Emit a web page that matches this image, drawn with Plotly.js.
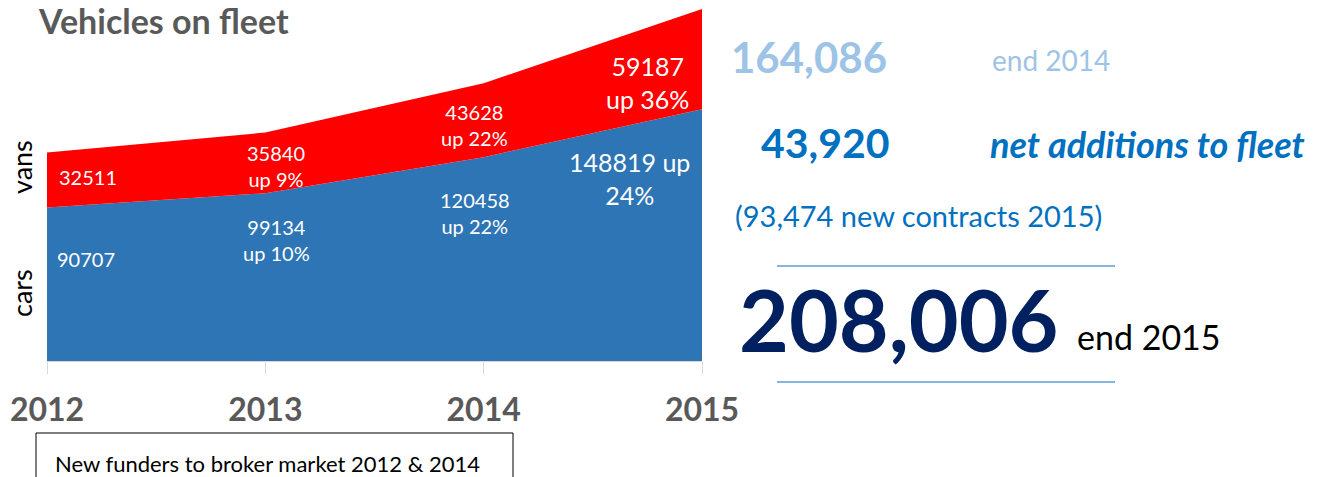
<!DOCTYPE html>
<html>
<head>
<meta charset="utf-8">
<script src="https://cdn.plot.ly/plotly-3.0.1.min.js"></script>
<style>html,body{margin:0;padding:0;background:#fff;}#chart{width:1335px;height:477px;}</style>
</head>
<body>
<div id="chart"></div>
<script>
// ---- data ----
var years = [2012, 2013, 2014, 2015];
var tickLabels = ['2012', '2013', '2014', '2015'];
var cars = [90707, 99134, 120458, 148819];
var vans = [32511, 35840, 43628, 59187];
var carLabels = ['90707', '99134<br>up 10%', '120458<br>up 22%', '148819 up<br>24%'];
var vanLabels = ['32511', '35840<br>up 9%', '43628<br>up 22%', '59187<br>up 36%'];
var seriesNames = ['cars', 'vans'];
var chartTitle = 'Vehicles on fleet';
var fleetEnd2014 = '164,086';
var netAdditions = '43,920';
var newContracts = '(93,474 new contracts 2015)';
var fleetEnd2015 = '208,006';
var noteText = 'New funders to broker market 2012 & 2014';

// ---- layout helpers (pixel -> paper) ----
var W = 1335, H = 477;
var L = 47, R = 702, T = 9, B = 361;
function px(x) { return (x - L) / (R - L); }
function py(y) { return (B - y) / (B - T); }
var FONT = 'Lato, "Open Sans", sans-serif';

var total = cars.map(function (c, i) { return c + vans[i]; });

var traces = [
  {
    x: years, y: cars, name: seriesNames[0], type: 'scatter', mode: 'lines',
    stackgroup: 'one', fillcolor: '#2E75B6', line: {width: 0, color: '#2E75B6'},
    hoverinfo: 'skip'
  },
  {
    x: years, y: vans, name: seriesNames[1], type: 'scatter', mode: 'lines',
    stackgroup: 'one', fillcolor: '#FF0000', line: {width: 0, color: '#FF0000'},
    hoverinfo: 'skip'
  }
];

// label placement (offsets in data space relative to each year)
var carLabelPos = [
  {dx: 0.035, y: 60300, anchor: 'left', size: 20},
  {dx: 0.05, y: 71500, anchor: 'center', size: 20},
  {dx: -0.04, y: 87400, anchor: 'center', size: 20},
  {dx: -0.33, y: 108100, anchor: 'center', size: 25}
];
var vanLabelPos = [
  {dx: 0.045, y: 108700, anchor: 'left', size: 20},
  {dx: 0.05, y: 115200, anchor: 'center', size: 20},
  {dx: -0.04, y: 139400, anchor: 'center', size: 20},
  {dx: -0.25, y: 164300, anchor: 'center', size: 25}
];

var annotations = [];
years.forEach(function (yr, i) {
  annotations.push({
    x: yr + carLabelPos[i].dx, y: carLabelPos[i].y, xref: 'x', yref: 'y',
    text: carLabels[i], showarrow: false, xanchor: carLabelPos[i].anchor, yanchor: 'middle',
    align: 'center', font: {family: FONT, size: carLabelPos[i].size, color: '#ffffff'}
  });
  annotations.push({
    x: yr + vanLabelPos[i].dx, y: vanLabelPos[i].y, xref: 'x', yref: 'y',
    text: vanLabels[i], showarrow: false, xanchor: vanLabelPos[i].anchor, yanchor: 'middle',
    align: 'center', font: {family: FONT, size: vanLabelPos[i].size, color: '#ffffff'}
  });
});

// series names on the left
annotations.push({x: px(21), y: py(167), xref: 'paper', yref: 'paper', text: seriesNames[1],
  textangle: -90, showarrow: false, xanchor: 'center', yanchor: 'middle',
  font: {family: FONT, size: 27, color: '#000000'}});
annotations.push({x: px(21), y: py(293), xref: 'paper', yref: 'paper', text: seriesNames[0],
  textangle: -90, showarrow: false, xanchor: 'center', yanchor: 'middle',
  font: {family: FONT, size: 27, color: '#000000'}});

// right-hand panel
function side(x, y, text, size, color, weight, style) {
  annotations.push({x: px(x), y: py(y), xref: 'paper', yref: 'paper', text: text,
    showarrow: false, xanchor: 'left', yanchor: 'middle',
    font: {family: FONT, size: size, color: color, weight: weight || 'normal', style: style || 'normal'}});
}
side(729, 57, fleetEnd2014, 42, '#9DC3E6', 'bold');
side(990, 60, 'end 2014', 28, '#9DC3E6');
side(759, 142, netAdditions, 41, '#0070C0', 'bold');
side(988, 144, 'net additions to fleet', 36, '#0070C0', 'bold', 'italic');
side(733, 215, newContracts, 29, '#0070C0');
side(737, 318, fleetEnd2015, 86, '#002060', 'bold');
side(1075, 336, 'end 2015', 34, '#000000');
side(53, 463, noteText, 22, '#000000');

var shapes = [
  {type: 'line', xref: 'paper', yref: 'paper', x0: px(777), x1: px(1115), y0: py(266), y1: py(266),
    line: {color: '#5B9BD5', width: 1.5}},
  {type: 'line', xref: 'paper', yref: 'paper', x0: px(777), x1: px(1115), y0: py(382), y1: py(382),
    line: {color: '#5B9BD5', width: 1.5}},
  {type: 'rect', xref: 'paper', yref: 'paper', x0: px(36), x1: px(513), y0: py(433), y1: py(495),
    line: {color: '#000000', width: 1}, fillcolor: 'rgba(0,0,0,0)'}
];

var layout = {
  width: W, height: H,
  margin: {l: L, r: W - R, t: T, b: H - B, pad: 0},
  paper_bgcolor: '#ffffff', plot_bgcolor: '#ffffff',
  showlegend: false,
  title: {text: chartTitle, xref: 'container', yref: 'container', x: 39 / W, xanchor: 'left',
    y: 1 - 22 / H, yanchor: 'middle', font: {family: FONT, size: 34, color: '#595959', weight: 'bold'}},
  xaxis: {
    range: [years[0], years[years.length - 1]], tickvals: years, ticktext: tickLabels,
    showgrid: false, zeroline: false, showline: true, linecolor: '#D9D9D9', linewidth: 1,
    ticks: 'outside', ticklen: 12, tickcolor: '#D9D9D9', tickwidth: 1,
    ticklabelstandoff: 9,
    tickfont: {family: FONT, size: 32, color: '#595959', weight: 'bold'},
    fixedrange: true
  },
  yaxis: {
    range: [0, Math.max.apply(null, total)], showgrid: false, zeroline: false,
    showticklabels: false, showline: false, ticks: '', fixedrange: true
  },
  annotations: annotations,
  shapes: shapes
};

Plotly.newPlot('chart', traces, layout, {staticPlot: true, displayModeBar: false});
</script>
</body>
</html>
